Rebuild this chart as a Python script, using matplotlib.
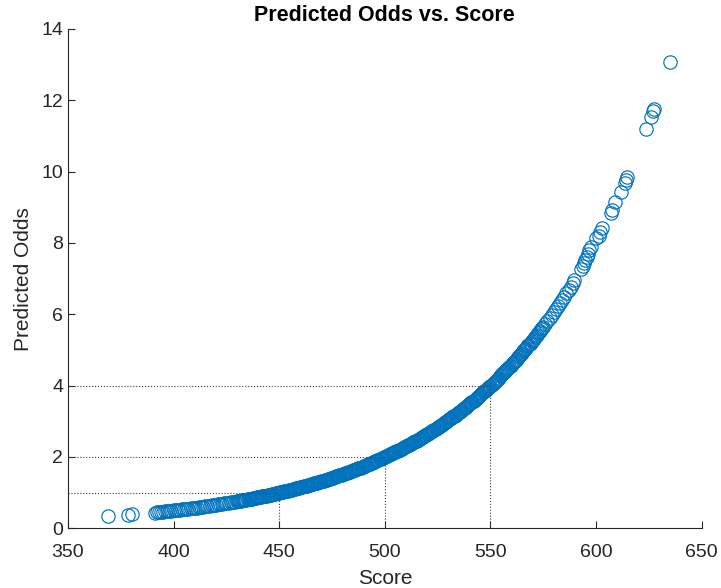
import numpy as np
import matplotlib.pyplot as plt

plt.rcParams['font.family'] = ['Liberation Sans', 'DejaVu Sans']

# sparse low tail
score_tail_lo = [369.1, 378.6, 380.2]
odds_tail_lo = [0.337, 0.385, 0.400]

# 391 .. 429
score_lo = [391, 392, 393, 394, 395, 396, 397, 398, 399, 400,
            401, 402, 403, 404, 405, 406, 407, 408, 409, 410,
            411, 412, 413, 414, 415, 416, 417, 418, 419, 420,
            421, 422, 423, 424, 425, 426, 427, 428, 429]
odds_lo = [0.441, 0.448, 0.454, 0.460, 0.467, 0.473, 0.480, 0.486, 0.493, 0.500,
           0.507, 0.514, 0.521, 0.528, 0.536, 0.543, 0.551, 0.559, 0.566, 0.574,
           0.582, 0.590, 0.599, 0.607, 0.616, 0.624, 0.633, 0.642, 0.651, 0.660,
           0.669, 0.678, 0.688, 0.697, 0.707, 0.717, 0.727, 0.737, 0.747]

# dense band 430 .. 574.5
score_mid = [430, 430.5, 431, 431.5, 432, 432.5, 433, 433.5, 434, 434.5,
             435, 435.5, 436, 436.5, 437, 437.5, 438, 438.5, 439, 439.5,
             440, 440.5, 441, 441.5, 442, 442.5, 443, 443.5, 444, 444.5,
             445, 445.5, 446, 446.5, 447, 447.5, 448, 448.5, 449, 449.5,
             450, 450.5, 451, 451.5, 452, 452.5, 453, 453.5, 454, 454.5,
             455, 455.5, 456, 456.5, 457, 457.5, 458, 458.5, 459, 459.5,
             460, 460.5, 461, 461.5, 462, 462.5, 463, 463.5, 464, 464.5,
             465, 465.5, 466, 466.5, 467, 467.5, 468, 468.5, 469, 469.5,
             470, 470.5, 471, 471.5, 472, 472.5, 473, 473.5, 474, 474.5,
             475, 475.5, 476, 476.5, 477, 477.5, 478, 478.5, 479, 479.5,
             480, 480.5, 481, 481.5, 482, 482.5, 483, 483.5, 484, 484.5,
             485, 485.5, 486, 486.5, 487, 487.5, 488, 488.5, 489, 489.5,
             490, 490.5, 491, 491.5, 492, 492.5, 493, 493.5, 494, 494.5,
             495, 495.5, 496, 496.5, 497, 497.5, 498, 498.5, 499, 499.5,
             500, 500.5, 501, 501.5, 502, 502.5, 503, 503.5, 504, 504.5,
             505, 505.5, 506, 506.5, 507, 507.5, 508, 508.5, 509, 509.5,
             510, 510.5, 511, 511.5, 512, 512.5, 513, 513.5, 514, 514.5,
             515, 515.5, 516, 516.5, 517, 517.5, 518, 518.5, 519, 519.5,
             520, 520.5, 521, 521.5, 522, 522.5, 523, 523.5, 524, 524.5,
             525, 525.5, 526, 526.5, 527, 527.5, 528, 528.5, 529, 529.5,
             530, 530.5, 531, 531.5, 532, 532.5, 533, 533.5, 534, 534.5,
             535, 535.5, 536, 536.5, 537, 537.5, 538, 538.5, 539, 539.5,
             540, 540.5, 541, 541.5, 542, 542.5, 543, 543.5, 544, 544.5,
             545, 545.5, 546, 546.5, 547, 547.5, 548, 548.5, 549, 549.5,
             550, 550.5, 551, 551.5, 552, 552.5, 553, 553.5, 554, 554.5,
             555, 555.5, 556, 556.5, 557, 557.5, 558, 558.5, 559, 559.5,
             560, 560.5, 561, 561.5, 562, 562.5, 563, 563.5, 564, 564.5,
             565, 565.5, 566, 566.5, 567, 567.5, 568, 568.5, 569, 569.5,
             570, 570.5, 571, 571.5, 572, 572.5, 573, 573.5, 574, 574.5]
odds_mid = [0.758, 0.763, 0.768, 0.774, 0.779, 0.785, 0.790, 0.796, 0.801, 0.807,
            0.812, 0.818, 0.824, 0.829, 0.835, 0.841, 0.847, 0.853, 0.859, 0.865,
            0.871, 0.877, 0.883, 0.889, 0.895, 0.901, 0.908, 0.914, 0.920, 0.927,
            0.933, 0.940, 0.946, 0.953, 0.959, 0.966, 0.973, 0.979, 0.986, 0.993,
            1.000, 1.007, 1.014, 1.021, 1.028, 1.035, 1.042, 1.050, 1.057, 1.064,
            1.072, 1.079, 1.087, 1.094, 1.102, 1.110, 1.117, 1.125, 1.133, 1.141,
            1.149, 1.157, 1.165, 1.173, 1.181, 1.189, 1.197, 1.206, 1.214, 1.223,
            1.231, 1.240, 1.248, 1.257, 1.266, 1.275, 1.283, 1.292, 1.301, 1.310,
            1.320, 1.329, 1.338, 1.347, 1.357, 1.366, 1.376, 1.385, 1.395, 1.404,
            1.414, 1.424, 1.434, 1.444, 1.454, 1.464, 1.474, 1.485, 1.495, 1.505,
            1.516, 1.526, 1.537, 1.548, 1.558, 1.569, 1.580, 1.591, 1.602, 1.613,
            1.625, 1.636, 1.647, 1.659, 1.670, 1.682, 1.693, 1.705, 1.717, 1.729,
            1.741, 1.753, 1.765, 1.778, 1.790, 1.802, 1.815, 1.828, 1.840, 1.853,
            1.866, 1.879, 1.892, 1.905, 1.919, 1.932, 1.945, 1.959, 1.972, 1.986,
            2.000, 2.014, 2.028, 2.042, 2.056, 2.071, 2.085, 2.099, 2.114, 2.129,
            2.144, 2.158, 2.173, 2.189, 2.204, 2.219, 2.235, 2.250, 2.266, 2.282,
            2.297, 2.313, 2.329, 2.346, 2.362, 2.378, 2.395, 2.412, 2.428, 2.445,
            2.462, 2.479, 2.497, 2.514, 2.532, 2.549, 2.567, 2.585, 2.603, 2.621,
            2.639, 2.657, 2.676, 2.694, 2.713, 2.732, 2.751, 2.770, 2.789, 2.809,
            2.828, 2.848, 2.868, 2.888, 2.908, 2.928, 2.949, 2.969, 2.990, 3.010,
            3.031, 3.053, 3.074, 3.095, 3.117, 3.138, 3.160, 3.182, 3.204, 3.227,
            3.249, 3.272, 3.294, 3.317, 3.340, 3.364, 3.387, 3.411, 3.434, 3.458,
            3.482, 3.506, 3.531, 3.555, 3.580, 3.605, 3.630, 3.655, 3.681, 3.706,
            3.732, 3.758, 3.784, 3.811, 3.837, 3.864, 3.891, 3.918, 3.945, 3.972,
            4.000, 4.028, 4.056, 4.084, 4.112, 4.141, 4.170, 4.199, 4.228, 4.257,
            4.287, 4.317, 4.347, 4.377, 4.408, 4.438, 4.469, 4.500, 4.532, 4.563,
            4.595, 4.627, 4.659, 4.691, 4.724, 4.757, 4.790, 4.823, 4.857, 4.891,
            4.925, 4.959, 4.993, 5.028, 5.063, 5.098, 5.134, 5.169, 5.205, 5.242,
            5.278, 5.315, 5.352, 5.389, 5.426, 5.464, 5.502, 5.540, 5.579, 5.618]

# 575 .. 589
score_hi = [575, 576, 577, 578, 579, 580, 581, 582, 583, 584,
            585, 586, 587, 588, 589]
odds_hi = [5.657, 5.736, 5.816, 5.897, 5.979, 6.063, 6.147, 6.233, 6.320, 6.409,
           6.498, 6.589, 6.681, 6.774, 6.869]

# sparse upper tail
score_tail_hi = [589.5, 593.0, 593.6, 594.2, 594.8, 595.5, 596.2, 596.8, 597.4,
                 599.8, 601.3, 602.1, 602.9, 606.9, 607.7, 609.2, 611.6,
                 613.6, 614.4, 614.8, 623.5, 625.9, 627.0, 627.6, 635.0]
odds_tail_hi = [6.96, 7.28, 7.36, 7.45, 7.52, 7.60, 7.70, 7.79, 7.88,
                8.13, 8.20, 8.31, 8.42, 8.85, 8.93, 9.16, 9.44,
                9.68, 9.77, 9.86, 11.19, 11.52, 11.70, 11.76, 13.08]

# reference points (score -> odds)
ref_score = [450, 500, 550]
ref_odds = [1, 2, 4]

score = np.concatenate([score_tail_lo, score_lo, score_mid, score_hi, score_tail_hi])
odds = np.concatenate([odds_tail_lo, odds_lo, odds_mid, odds_hi, odds_tail_hi])

fig, ax = plt.subplots(figsize=(7.21, 5.88), dpi=100)
fig.subplots_adjust(left=0.0943, right=0.9732, bottom=0.1015, top=0.9507)

ax.plot(score, odds, 'o', ms=9.6, mfc='none', mec='#0072BD', mew=0.85)

for s, o in zip(ref_score, ref_odds):
    ax.plot([350, s], [o, o], ':', color='#404040', lw=0.8, zorder=3)
    ax.plot([s, s], [0, o], ':', color='#404040', lw=0.8, zorder=3)

ax.set_xlim(350, 650)
ax.set_ylim(0, 14)
ax.set_xticks(np.arange(350, 651, 50))
ax.set_yticks(np.arange(0, 15, 2))

for side in ['top', 'right']:
    ax.spines[side].set_visible(False)
for side in ['left', 'bottom']:
    ax.spines[side].set_color('#262626')
    ax.spines[side].set_linewidth(0.8)

ax.tick_params(axis='both', direction='in', length=5, width=0.8,
               colors='#262626', labelsize=14)
ax.tick_params(axis='x', pad=11)

ax.set_xlabel('Score', fontsize=15, color='#262626', labelpad=6)
ax.set_ylabel('Predicted Odds', fontsize=15, color='#262626', labelpad=6)
ax.set_title('Predicted Odds vs. Score', fontsize=15.5, fontweight='bold', pad=6)

fig.savefig('out.png', dpi=100)
